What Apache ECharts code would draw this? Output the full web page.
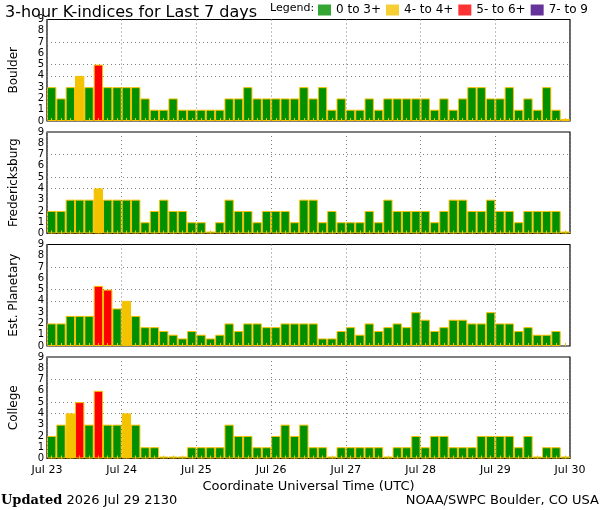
<!DOCTYPE html>
<html>
<head>
<meta charset="utf-8">
<title>3-hour K-indices for Last 7 days</title>
<script src="https://cdn.jsdelivr.net/npm/echarts@6/dist/echarts.min.js"></script>
<style>
  html, body { margin: 0; padding: 0; background: #fff; }
  #kindex { width: 600px; height: 510px; }
</style>
</head>
<body>
<div id="kindex"></div>
<script>
// station names, top to bottom
var stations = ['Boulder', 'Fredericksburg', 'Est. Planetary', 'College'];

// 3-hour K values, Jul 23 00 UT .. Jul 29 21 UT (56 slots)
var boulder = [3, 2, 3, 4, 3, 5, 3, 3, 3, 3, 2, 1, 1, 2, 1, 1, 1, 1, 1, 2, 2, 3, 2, 2, 2, 2, 2, 3,
               2, 3, 1, 2, 1, 1, 2, 1, 2, 2, 2, 2, 2, 1, 2, 1, 2, 3, 3, 2, 2, 3, 1, 2, 1, 3, 1, 0];
var fredericksburg = [2, 2, 3, 3, 3, 4, 3, 3, 3, 3, 1, 2, 3, 2, 2, 1, 1, 0, 1, 3, 2, 2, 1, 2, 2, 2, 1, 3,
                      3, 1, 2, 1, 1, 1, 2, 1, 3, 2, 2, 2, 2, 1, 2, 3, 3, 2, 2, 3, 2, 2, 1, 2, 2, 2, 2, 0];
var planetary = [2, 2, 2.67, 2.67, 2.67, 5.33, 5, 3.33, 4, 2.67, 1.67, 1.67, 1.33, 1, 0.67, 1.33, 1, 0.67, 1, 2, 1.33, 2, 2, 1.67, 1.67, 2, 2, 2,
                 2, 0.67, 0.67, 1.33, 1.67, 1, 2, 1.33, 1.67, 2, 1.67, 3, 2.33, 1.33, 1.67, 2.33, 2.33, 2, 2, 3, 2, 2, 1.33, 1.67, 1, 1, 1.33, null];
var college = [2, 3, 4, 5, 3, 6, 3, 3, 4, 3, 1, 1, 0, 0, 0, 1, 1, 1, 1, 3, 2, 2, 1, 1, 2, 3, 2, 3,
               1, 1, 0, 1, 1, 1, 1, 1, 0, 1, 1, 2, 1, 2, 2, 1, 1, 1, 2, 2, 2, 2, 1, 2, 0, 1, 1, 0];

var dayLabels = ['Jul 23', 'Jul 24', 'Jul 25', 'Jul 26', 'Jul 27', 'Jul 28', 'Jul 29', 'Jul 30'];
var hourLabels = ['00', '03', '06', '09', '12', '15', '18', '21'];
var legendNames = ['0 to 3+', '4- to 4+', '5- to 6+', '7- to 9'];
var legendColors = ['#009000', '#f4c300', '#ff0000', '#3f0080'];
var gridLevels = [4, 5, 7];

var FONT = '"DejaVu Sans", sans-serif';
var kValues = [boulder, fredericksburg, planetary, college];
var gridTops = [19.5, 132, 244.5, 357];

// one slot name per bar, e.g. "Jul 23 00"
var slots = [];
dayLabels.slice(0, 7).forEach(function (d) {
  hourLabels.forEach(function (h) { slots.push(d + ' ' + h); });
});

function kColor(v) {
  if (v < 4) return legendColors[0];
  if (v < 5) return legendColors[1];
  if (v < 7) return legendColors[2];
  return legendColors[3];
}

var chart = echarts.init(document.getElementById('kindex'));

var grids = [], xAxes = [], yAxes = [], series = [];
var dotted = { color: '#808080', type: [1, 3], width: 1 };

kValues.forEach(function (vals, g) {
  var last = g === kValues.length - 1;
  grids.push({
    left: 36, right: 30, top: gridTops[g], height: 101.5,
    show: true, borderColor: '#000', borderWidth: 1.2
  });
  // bars + small yellow marks at slot centres
  xAxes.push({
    type: 'category', gridIndex: g, position: 'bottom', data: slots, boundaryGap: true, z: 3,
    axisLine: { show: false },
    axisTick: { show: true, inside: true, length: 3, interval: 0, alignWithLabel: true,
                lineStyle: { color: '#f4c300', width: 1 } },
    axisLabel: { show: false },
    splitLine: { show: false }
  });
  // day labels and dotted day lines
  xAxes.push({
    type: 'value', gridIndex: g, position: 'bottom', min: 0, max: 56, interval: 8, z: 3,
    axisLine: { show: false },
    axisTick: { show: false },
    axisLabel: {
      show: last, showMinLabel: true, showMaxLabel: true, margin: 6,
      fontSize: 11, fontFamily: FONT, color: '#000',
      formatter: function (v) { return dayLabels[Math.round(v / 8)]; }
    },
    splitLine: { show: true, lineStyle: dotted },
    name: last ? 'Coordinate Universal Time (UTC)' : '',
    nameLocation: 'middle', nameGap: 22,
    nameTextStyle: { fontSize: 13, fontFamily: FONT, color: '#000' }
  });
  yAxes.push({
    type: 'value', gridIndex: g, min: 0, max: 9, interval: 1,
    name: stations[g], nameLocation: 'middle', nameRotate: 90, nameGap: 27,
    nameTextStyle: { fontSize: 12, fontFamily: FONT, color: '#000' },
    axisLine: { show: false },
    axisTick: { show: false },
    axisLabel: { fontSize: 10, fontFamily: FONT, color: '#000', margin: 3 },
    splitLine: { show: false }
  });
  series.push({
    type: 'bar', name: stations[g], xAxisIndex: 2 * g, yAxisIndex: g,
    data: vals, barCategoryGap: 0, barMinHeight: 2,
    itemStyle: {
      color: function (p) { return kColor(p.value); },
      borderColor: '#f8c000', borderWidth: 1
    },
    markLine: {
      silent: true, symbol: 'none', z: 1, label: { show: false },
      lineStyle: dotted,
      data: gridLevels.map(function (v) { return { yAxis: v }; })
    }
  });
});

// legend entries only
legendNames.forEach(function (n, i) {
  series.push({ type: 'scatter', name: n, xAxisIndex: 0, yAxisIndex: 0, data: [],
                itemStyle: { color: legendColors[i] } });
});

chart.setOption({
  animation: false,
  title: {
    text: '3-hour K-indices for Last 7 days', left: 0, top: 0,
    textStyle: { fontSize: 16, fontWeight: 'normal', fontFamily: FONT, color: '#000' }
  },
  legend: {
    data: legendNames, left: 318, top: 4, icon: 'rect',
    itemWidth: 13, itemHeight: 11, itemGap: 5, padding: 0,
    textStyle: { fontSize: 12, fontFamily: FONT, color: '#000' }
  },
  grid: grids,
  xAxis: xAxes,
  yAxis: yAxes,
  series: series,
  graphic: [
    { type: 'text', left: 270, top: 3,
      style: { text: 'Legend:', fontSize: 11, fontFamily: FONT, fill: '#000' } },
    { type: 'text', left: 1, top: 494,
      style: { text: '{b|Updated} 2026 Jul 29 2130', fontSize: 13, fontFamily: FONT, fill: '#000',
               rich: { b: { fontSize: 13, fontFamily: '"DejaVu Serif", serif', fontWeight: 'bold', fill: '#000' } } } },
    { type: 'text', right: 1, top: 494,
      style: { text: 'NOAA/SWPC Boulder, CO USA', fontSize: 13, fontFamily: FONT, fill: '#000' } }
  ]
});
</script>
</body>
</html>
